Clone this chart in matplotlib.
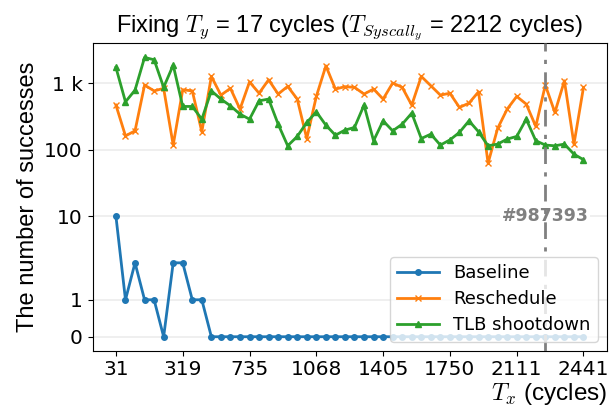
import matplotlib
matplotlib.use("Agg")
import matplotlib.pyplot as plt
import numpy as np

plt.rcParams['mathtext.fontset'] = 'cm'

# x positions are sample indices; only every 7th T_x is labelled
tick_idx = [0, 7, 14, 21, 28, 35, 42, 49]
tick_labels = ['31', '319', '735', '1068', '1405', '1750', '2111', '2441']

baseline = [10, 1, 2, 1, 1, 0, 2, 2, 1, 1] + [0] * 40

reschedule = [470, 162, 193, 940, 770, 840, 118, 800, 770, 187,
              1270, 665, 840, 409, 1050, 710, 1130, 690, 900, 580,
              148, 635, 1830, 820, 890, 870, 690, 820, 580, 1010,
              870, 470, 1270, 920, 665, 710, 434, 504, 745, 63,
              210, 409, 635, 487, 225, 940, 365, 1090, 122, 870]

tlb = [1730, 527, 790, 2450, 2260, 870, 1880, 449, 449, 289,
       770, 580, 459, 344, 289, 545, 580, 243, 115, 159,
       258, 373, 235, 166, 198, 217, 470, 137, 273, 193,
       243, 356, 148, 172, 118, 141, 183, 273, 187, 115,
       122, 145, 159, 289, 137, 118, 115, 122, 86, 71]

mark_idx = 45
mark_text = '#987393'

yticks = [0, 1, 10, 100, 1000]
ytick_labels = ['0', '1', '10', '100', '1 k']

x = np.arange(len(baseline))

fig = plt.figure(figsize=(6.13, 4.18), dpi=100)
ax = fig.add_axes([0.151, 0.161, 0.839, 0.735])

ax.plot(x, baseline, marker='o', markersize=4, lw=2, color='C0', label='Baseline')
ax.plot(x, reschedule, marker='x', markersize=4, lw=2, color='C1', label='Reschedule')
ax.plot(x, tlb, marker='^', markersize=5, lw=2, color='C2', label='TLB shootdown')

ax.set_yscale('symlog', linthresh=2, linscale=1)
ax.set_yticks(yticks)
ax.set_yticklabels(ytick_labels)
ax.yaxis.set_minor_locator(matplotlib.ticker.NullLocator())
ax.set_xticks(tick_idx)
ax.set_xticklabels(tick_labels)
ax.tick_params(labelsize=14.5)
ax.grid(axis='y', color='#ececec', lw=1.2, zorder=0)
ax.set_axisbelow(True)

ax.axvline(mark_idx, color='gray', ls=(0, (6, 3, 1.5, 3)), lw=2, zorder=3)
ax.text(mark_idx, 10, mark_text, ha='center', va='center', fontsize=12.5,
        fontweight='bold', color='gray', zorder=2,
        bbox=dict(facecolor='white', edgecolor='none', pad=1))

ax.legend(loc='lower right', fontsize=13, framealpha=0.8,
          handlelength=2.3, labelspacing=0.45)

sans = ['Liberation Sans', 'DejaVu Sans']
ax.set_title(r'Fixing $T_y$ = 17 cycles ($T_{Syscall_y}$ = 2212 cycles)',
             fontsize=17, family=sans, pad=6)
ax.set_ylabel('The number of successes', fontsize=17, family=sans, labelpad=4)
ax.set_xlabel(r'$T_x$ (cycles)', fontsize=17.5, family=sans, loc='right', labelpad=1)

fig.savefig('out.png', dpi=100)
